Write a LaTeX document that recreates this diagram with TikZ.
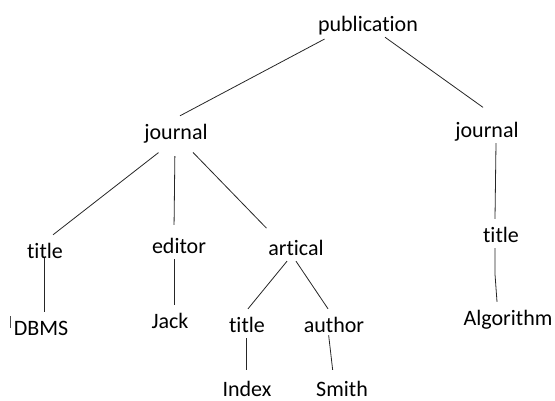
\documentclass[tikz,border=0pt]{standalone}
\usepackage{fontspec}
\setmainfont{Carlito}[Ligatures=NoCommon]
\begin{document}
\begin{tikzpicture}[x=1pt,y=-1pt,
  lbl/.style={anchor=base,inner xsep=3pt,inner ysep=3pt,text height=20pt,text depth=3pt,
    font=\fontsize{22}{26}\selectfont,text=black},
  lowlbl/.style={lbl,text depth=0pt},
  edge/.style={draw=black!85,line width=0.8pt}]
\useasboundingbox (0,0) rectangle (555,400);
% nodes
\node[lbl] (pub)   at (368,31)  {publication};
\node[lbl] (jL)    at (176,139) {journal};
\node[lbl] (jR)    at (487,137) {journal};
\node[lbl] (tL)    at (45,258)  {title};
\node[lbl] (ed)    at (179,253) {editor};
\node[lbl] (art)   at (296,255) {artical};
\node[lbl] (tR)    at (501,242) {title};
\node[lbl] (dbms)  at (41,335)  {DBMS};
\node[lbl] (jack)  at (170,328) {Jack};
\node[lbl] (tA)    at (247,332) {title};
\node[lbl] (au)    at (334,332) {author};
\node[lbl] (alg)   at (508,325) {Algorithm};
\node[lowlbl] (idx)   at (247,396) {Index};
\node[lowlbl] (smith) at (342,396) {Smith};
% connectors
\draw[edge,shorten <=4pt] ([xshift=-40pt]pub.south) -- ([xshift=4pt]jL.north);
\draw[edge,shorten >=11pt] ([xshift=17pt]pub.south) -- ([xshift=5pt]jR.north);
\draw[edge,shorten <=12pt] ([xshift=-8pt]jL.south) -- ([xshift=8pt]tL.north);
\draw[edge,shorten <=11pt,shorten >=5pt] ([xshift=-1pt]jL.south) -- ([xshift=-5pt]ed.north);
\draw[edge,shorten <=10pt,shorten >=5pt] ([xshift=10pt]jL.south) -- ([xshift=-26pt]art.north);
\draw[edge] ([xshift=9pt]jR.south) -- ([xshift=-6pt]tR.north);
\draw[edge,shorten <=-6pt] ([xshift=-1pt]tL.south) -- ([xshift=3pt]dbms.north);
\draw[edge] ([xshift=-5pt]ed.south) -- ([xshift=4pt]jack.north);
\draw[edge] ([xshift=-9pt]art.south) -- ([xshift=1pt]tA.north);
\draw[edge] (art.south) -- ([xshift=-6pt]au.north);
\draw[edge] ([xshift=-6pt]tR.south) -- ++(0,26) -- ([xshift=-11pt]alg.north);
\draw[edge,shorten >=3pt] ([xshift=-1pt]tA.south) -- ([xshift=-1pt]idx.north);
\draw[edge,shorten <=-3pt,shorten >=3pt] ([xshift=-5pt]au.south) -- ([xshift=-9pt]smith.north);
% small mark left of DBMS
\draw[draw=black!70,line width=0.6pt] (dbms.base west) ++(0,-19) -- ++(0,12);
\end{tikzpicture}
\end{document}
